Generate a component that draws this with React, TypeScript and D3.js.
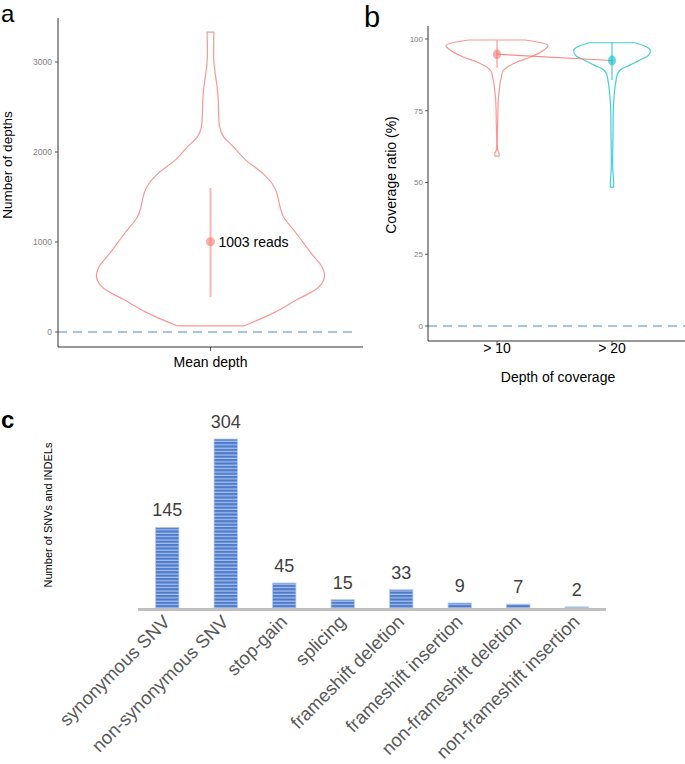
import React from 'react';
import * as d3 from 'd3';

const W = 685;
const H = 764;
const FONT = "'Liberation Sans', Arial, Helvetica, sans-serif";
const RED = '#F8766D';
const CYAN = '#00BFC4';
const DASH = '#A9C4E0';

// ---------- Panel a data ----------
const aCategory = ['Mean depth'];
const aTicks = [0, 1000, 2000, 3000];
const aViolinValues = [67, 210, 360, 500, 610, 720, 880, 1100, 1280, 1390, 1550, 1650, 1760, 1910, 2060, 2170, 2280, 2570, 2700, 3000, 3333];
const aViolinDensity = [0.29, 0.55, 0.76, 0.95, 1.0, 0.98, 0.88, 0.75, 0.64, 0.61, 0.58, 0.54, 0.46, 0.31, 0.2, 0.114, 0.08, 0.068, 0.06, 0.03, 0.03];
const aMean = 1003;
const aRange = [390, 1600];
const aLabel = '1003 reads';

// ---------- Panel b data ----------
const bCategories = ['> 10', '> 20'];
const bTicks = [0, 25, 50, 75, 100];
const b10Values = [59.2, 60.3, 61.3, 71.8, 78.7, 82.2, 85.1, 86.9, 88.6, 90.3, 92.1, 93.8, 96.2, 97.7, 99.65];
const b10Density = [0.04, 0.04, 0.014, 0.015, 0.025, 0.045, 0.065, 0.09, 0.11, 0.21, 0.41, 0.67, 0.92, 1.0, 0.55];
const b20Values = [48.4, 49.8, 55.4, 67.2, 75.3, 79.9, 83.4, 85.7, 87.5, 89.2, 90.9, 92.7, 94.4, 96.2, 97.5, 98.7];
const b20Density = [0.03, 0.033, 0.014, 0.02, 0.025, 0.04, 0.06, 0.08, 0.1, 0.16, 0.35, 0.55, 0.72, 0.75, 0.65, 0.44];
const bMeans = [94.7, 92.5];
const bLow = [90, 85.7];
const bHigh = [99.6, 98.7];

// ---------- Panel c data ----------
const cCategories = [
  'synonymous SNV',
  'non-synonymous SNV',
  'stop-gain',
  'splicing',
  'frameshift deletion',
  'frameshift insertion',
  'non-frameshift deletion',
  'non-frameshift insertion',
];
const cValues = [145, 304, 45, 15, 33, 9, 7, 2];

type VP = { v: number; d: number };
const zip = (vals: number[], dens: number[]): VP[] => vals.map((v, i) => ({ v, d: dens[i] }));

function violinPath(
  pts: VP[],
  cx: number,
  y: d3.ScaleLinear<number, number>,
  w: d3.ScaleLinear<number, number>
) {
  return (
    d3
      .area<VP>()
      .y((p) => y(p.v))
      .x0((p) => cx - w(p.d))
      .x1((p) => cx + w(p.d))
      .curve(d3.curveCatmullRom.alpha(0.5))(pts) || ''
  );
}

export default function App() {
  // Panel a scales
  const ayScale = d3.scaleLinear().domain([0, 3000]).range([332, 62]);
  const axScale = d3.scaleBand().domain(aCategory).range([58, 363]);
  const awScale = d3.scaleLinear().domain([0, 1]).range([0, 114]);
  const aCx = (axScale(aCategory[0]) as number) + axScale.bandwidth() / 2;

  // Panel b scales
  const byScale = d3.scaleLinear().domain([0, 100]).range([326, 39]);
  const bxScale = d3.scalePoint().domain(bCategories).range([428, 681]).padding(0.6);
  const bwScale = d3.scaleLinear().domain([0, 1]).range([0, 51]);
  const bViolins = [zip(b10Values, b10Density), zip(b20Values, b20Density)];
  const bColors = [RED, CYAN];

  // Panel c scales
  const cxScale = d3.scaleBand().domain(cCategories).range([138, 606]).paddingInner(0.6).paddingOuter(0.3);
  const cyScale = d3.scaleLinear().domain([0, 304]).range([608, 439]);

  const aPts = zip(aViolinValues, aViolinDensity);

  return (
    <svg
      width={W}
      height={H}
      viewBox={`0 0 ${W} ${H}`}
      style={{ position: 'absolute', left: 0, top: 0, display: 'block', background: '#fff' }}
      fontFamily={FONT}
    >
      <defs>
        <pattern id="stripes" width={6} height={3.4} patternUnits="userSpaceOnUse">
          <rect x={0} y={0} width={6} height={3.4} fill="#A9C1EC" />
          <rect x={0} y={0} width={6} height={2.2} fill="#4E7BCB" />
        </pattern>
      </defs>
      <rect x={0} y={0} width={W} height={H} fill="#fff" />

      {/* ================= Panel a ================= */}
      <text x={1} y={22} fontSize={24} fill="#000">a</text>
      {/* dashed zero line */}
      <line x1={58} x2={358} y1={ayScale(0)} y2={ayScale(0)} stroke={DASH} strokeWidth={1.8} strokeDasharray="9,6" />
      {/* violin */}
      <path d={violinPath(aPts, aCx, ayScale, awScale)} fill="none" stroke={RED} strokeOpacity={0.75} strokeWidth={1.2} />
      <line x1={aCx} x2={aCx} y1={ayScale(aRange[0])} y2={ayScale(aRange[1])} stroke={RED} strokeOpacity={0.55} strokeWidth={2} />
      <circle cx={aCx} cy={ayScale(aMean)} r={4.5} fill={RED} fillOpacity={0.6} />
      <text x={aCx + 8} y={ayScale(aMean) + 5} fontSize={14} fill="#000">{aLabel}</text>
      {/* axes */}
      <line x1={58} x2={58} y1={18} y2={347} stroke="#333" strokeWidth={1} />
      <line x1={58} x2={363} y1={347} y2={347} stroke="#333" strokeWidth={1} />
      {aTicks.map((t) => (
        <g key={t}>
          <line x1={55} x2={58} y1={ayScale(t)} y2={ayScale(t)} stroke="#333" strokeWidth={0.8} />
          <text x={52} y={ayScale(t)} dy="0.35em" textAnchor="end" fontSize={8.5} fill="#808080">{t}</text>
        </g>
      ))}
      <line x1={aCx} x2={aCx} y1={347} y2={351} stroke="#333" strokeWidth={0.8} />
      <text x={aCx} y={367} textAnchor="middle" fontSize={14} fill="#000">{aCategory[0]}</text>
      <text transform={`translate(12,165) rotate(-90)`} textAnchor="middle" fontSize={13.5} fill="#000">
        Number of depths
      </text>

      {/* ================= Panel b ================= */}
      <text x={364} y={27} fontSize={29} fill="#000">b</text>
      <line x1={428} x2={685} y1={byScale(0)} y2={byScale(0)} stroke={DASH} strokeWidth={1.8} strokeDasharray="9,6" />
      {bCategories.map((c, i) => {
        const cx = bxScale(c) as number;
        return (
          <g key={c}>
            <path d={violinPath(bViolins[i], cx, byScale, bwScale)} fill="none" stroke={bColors[i]} strokeOpacity={0.75} strokeWidth={1.2} />
            <line x1={cx} x2={cx} y1={byScale(bLow[i])} y2={byScale(bHigh[i])} stroke={bColors[i]} strokeOpacity={0.55} strokeWidth={1.6} />
          </g>
        );
      })}
      <line
        x1={bxScale(bCategories[0]) as number}
        x2={bxScale(bCategories[1]) as number}
        y1={byScale(bMeans[0])}
        y2={byScale(bMeans[1])}
        stroke={RED}
        strokeOpacity={0.85}
        strokeWidth={1.2}
      />
      {bCategories.map((c, i) => (
        <ellipse key={c} cx={bxScale(c) as number} cy={byScale(bMeans[i])} rx={4} ry={5} fill={bColors[i]} fillOpacity={0.6} />
      ))}
      <line x1={428} x2={428} y1={26} y2={341} stroke="#333" strokeWidth={1} />
      <line x1={428} x2={685} y1={341} y2={341} stroke="#333" strokeWidth={1} />
      {bTicks.map((t) => (
        <g key={t}>
          <line x1={425} x2={428} y1={byScale(t)} y2={byScale(t)} stroke="#333" strokeWidth={0.8} />
          <text x={423} y={byScale(t)} dy="0.35em" textAnchor="end" fontSize={8} fill="#808080">{t}</text>
        </g>
      ))}
      {bCategories.map((c) => (
        <g key={c}>
          <line x1={bxScale(c) as number} x2={bxScale(c) as number} y1={341} y2={345} stroke="#333" strokeWidth={0.8} />
          <text x={bxScale(c) as number} y={353} textAnchor="middle" fontSize={14} fill="#000">{c}</text>
        </g>
      ))}
      <text x={558} y={382} textAnchor="middle" fontSize={14} fill="#000">Depth of coverage</text>
      <text transform={`translate(396,175) rotate(-90)`} textAnchor="middle" fontSize={14} fill="#000">
        Coverage ratio (%)
      </text>

      {/* ================= Panel c ================= */}
      <text x={1} y={428} fontSize={24} fontWeight="bold" fill="#000">c</text>
      <text transform={`translate(52,515) rotate(-90)`} textAnchor="middle" fontSize={11} fill="#000">
        Number of SNVs and INDELs
      </text>
      {cCategories.map((c, i) => {
        const x = cxScale(c) as number;
        const bw = cxScale.bandwidth();
        const y = cyScale(cValues[i]);
        return (
          <g key={c}>
            <rect x={x} y={y} width={bw} height={cyScale(0) - y} fill="url(#stripes)" stroke="#B9CCEE" strokeWidth={0.8} />
            <text x={x + bw / 2} y={y - 11} textAnchor="middle" fontSize={18} fill="#404040">{cValues[i]}</text>
          </g>
        );
      })}
      <line x1={138} x2={606} y1={609.5} y2={609.5} stroke="#BFBFBF" strokeWidth={3} />
      {cCategories.map((c) => {
        const cx = (cxScale(c) as number) + cxScale.bandwidth() / 2;
        return (
          <text key={c} transform={`translate(${cx + 4},623) rotate(-45)`} textAnchor="end" fontSize={18.5} fill="#595959">
            {c}
          </text>
        );
      })}
    </svg>
  );
}
